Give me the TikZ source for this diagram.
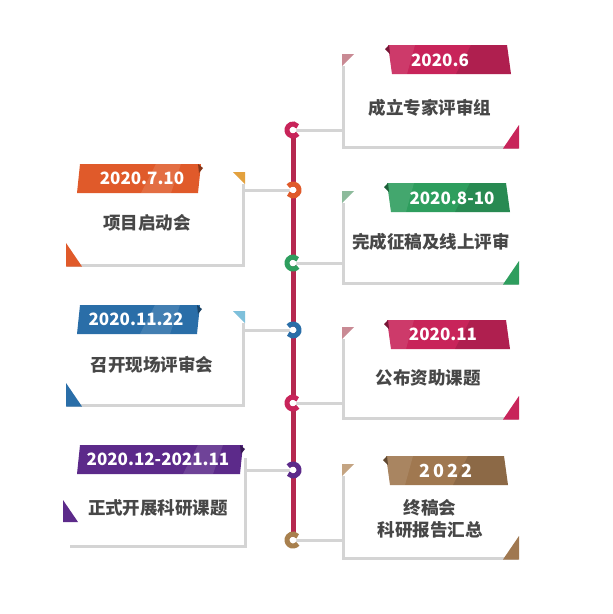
\documentclass[tikz,border=0pt]{standalone}
\usepackage{fontspec}
\setmainfont{Noto Sans CJK SC}
\definecolor{crim}{HTML}{C8245A}
\definecolor{crimpale}{HTML}{C98A94}
\definecolor{tline}{HTML}{B5284F}
\definecolor{orng}{HTML}{E05A2A}
\definecolor{orngpale}{HTML}{E3A13E}
\definecolor{grn}{HTML}{2E9E5E}
\definecolor{grnpale}{HTML}{8DBB9C}
\definecolor{blu}{HTML}{2A6EA8}
\definecolor{blupale}{HTML}{7EC0DB}
\definecolor{purp}{HTML}{5C2A8A}
\definecolor{brwn}{HTML}{A07850}
\definecolor{brwnpale}{HTML}{C4A482}
\definecolor{ringbrown}{HTML}{A8804E}
\definecolor{graybd}{HTML}{D4D4D4}
\definecolor{txt}{HTML}{474747}
\tikzset{
  border/.style={draw=graybd, line width=3pt, line cap=butt, line join=miter},
  conn/.style={draw=graybd, line width=3pt},
  bantext/.style={text=white, font=\bfseries\fontsize{17}{20}\selectfont, inner sep=0pt},
  maintext/.style={text=txt, font=\bfseries\fontsize{17.5}{22}\selectfont, inner sep=0pt, align=center},
  ringst/.style={line width=5pt},
}
% right banner: #1 color, #2 left x, #3 right x, #4 top y
\newcommand{\rbanner}[4]{%
  \fill[#1] (#2+3,#4) -- (#3-4,#4) -- (#3,#4+29) -- (#2+7,#4+29) -- cycle;
  \fill[white, opacity=0.10] (#2+3,#4) -- (#2+30,#4) -- (#2+22,#4+29) -- (#2+7,#4+29) -- cycle;
  \fill[black, opacity=0.12] (#3-40,#4) -- (#3-4,#4) -- (#3,#4+29) -- (#3-55,#4+29) -- cycle;
  \fill[#1!60!black] (#2,#4+4) -- (#2+4,#4) -- (#2+5,#4+9) -- cycle;
}
% left banner
\newcommand{\lbanner}[4]{%
  \fill[#1] (#2+3,#4) -- (#3,#4) -- (#3-3,#4+29) -- (#2,#4+29) -- cycle;
  \fill[white, opacity=0.12] (#3-45,#4) -- (#3-20,#4) -- (#3-30,#4+29) -- (#3-60,#4+29) -- cycle;
  \fill[#1!60!black] (#3-3,#4) -- (#3+2,#4+4) -- (#3-2,#4+9) -- cycle;
}
% ring: #1 name, #2 color, #3 opening angle
\newcommand{\ringat}[3]{%
  \draw[ringst, draw=#2] ([shift={(#3+38:6)}]#1) arc[start angle=#3+38, end angle=#3+322, radius=6];
}
\begin{document}
\begin{tikzpicture}[x=1pt, y=-1pt]
\useasboundingbox[fill=white] (0,0) rectangle (613,614);

% ---- timeline
\coordinate (c1) at (293,130);
\coordinate (c2) at (293,190);
\coordinate (c3) at (293,263);
\coordinate (c4) at (293,330);
\coordinate (c5) at (293,403);
\coordinate (c6) at (293,470);
\coordinate (c7) at (293,540);
\draw[draw=tline, line width=5pt] (c1) -- (c7);

% ---- connector joints
\coordinate (j1) at (343,130);
\coordinate (j2) at (243,190);
\coordinate (j3) at (343,263);
\coordinate (j4) at (243,330);
\coordinate (j5) at (343,403);
\coordinate (j6) at (245,470);
\coordinate (j7) at (343,540);
\draw[conn] ([xshift=3pt]c1) -- (j1);
\draw[conn] ([xshift=-3pt]c2) -- (j2);
\draw[conn] ([xshift=3pt]c3) -- (j3);
\draw[conn] ([xshift=-3pt]c4) -- (j4);
\draw[conn] ([xshift=3pt]c5) -- (j5);
\draw[conn] ([xshift=-3pt]c6) -- (j6);
\draw[conn] ([xshift=3pt]c7) -- (j7);

% ---- rings
\fill[white] (c1) circle (3.5) (c2) circle (3.5) (c3) circle (3.5) (c4) circle (3.5) (c5) circle (3.5) (c6) circle (3.5) (c7) circle (3.5);
\ringat{c1}{crim}{0}
\ringat{c2}{orng}{180}
\ringat{c3}{grn}{0}
\ringat{c4}{blu}{180}
\ringat{c5}{crim}{0}
\ringat{c6}{purp}{180}
\ringat{c7}{ringbrown}{0}

% ---- right box 1
\draw[border] (343,66) -- (343,147) -- (518,147);
\fill[crimpale] (342,54) -- (354,54) -- (342,66) -- cycle;
\fill[crim] (519,125) -- (519,148.5) -- (503,148.5) -- cycle;
\rbanner{crim}{385}{511}{45}
\node[bantext] (b1) at (440,60) {2020.6};
\node[maintext] (t1) at (430,108) {成立专家评审组};

% ---- right box 2
\draw[border] (343,203) -- (343,283) -- (518,283);
\fill[grnpale] (342,191) -- (354,191) -- (342,203) -- cycle;
\fill[grn] (519,261) -- (519,284.5) -- (503,284.5) -- cycle;
\rbanner{grn}{384}{510}{183}
\node[bantext] (b2) at (452,198) {2020.8-10};
\node[maintext] (t2) at (431,242) {完成征稿及线上评审};

% ---- right box 3
\draw[border] (343,339) -- (343,418) -- (518,418);
\fill[crimpale] (342,327) -- (354,327) -- (342,339) -- cycle;
\fill[crim] (519,396) -- (519,419.5) -- (503,419.5) -- cycle;
\rbanner{crim}{384}{510}{320}
\node[bantext] (b3) at (443,334) {2020.11};
\node[maintext] (t3) at (428,378) {公布资助课题};

% ---- right box 4
\draw[border] (343,476) -- (343,558) -- (518,558);
\fill[brwnpale] (342,464) -- (354,464) -- (342,476) -- cycle;
\fill[brwn] (519,536) -- (519,559.5) -- (503,559.5) -- cycle;
\rbanner{brwn}{383}{508}{456}
\node[bantext, font=\bfseries\fontsize{18}{20}\selectfont] (b4) at (446,471) {2\,0\,2\,2};
\node[maintext] (t4) at (430,519) {终稿会\\科研报告汇总};

% ---- left box 1
\draw[border] (243,184) -- (243,265) -- (67,265);
\fill[orngpale] (245,172) -- (233,172) -- (245,184) -- cycle;
\fill[orng] (66,243) -- (66,266.5) -- (82,266.5) -- cycle;
\lbanner{orng}{77}{201}{164}
\node[bantext] (b5) at (142,178) {2020.7.10};
\node[maintext] (t5) at (147,223) {项目启动会};

% ---- left box 2
\draw[border] (243,323) -- (243,405) -- (67,405);
\fill[blupale] (245,311) -- (233,311) -- (245,323) -- cycle;
\fill[blu] (66,383) -- (66,406.5) -- (82,406.5) -- cycle;
\lbanner{blu}{77}{200}{305}
\node[bantext] (b6) at (136,319) {2020.11.22};
\node[maintext] (t6) at (152,365) {召开现场评审会};

% ---- left box 3
\draw[border] (245,458) -- (245,546) -- (70,546);
\fill[purp] (63,500) -- (63,522) -- (78,522) -- cycle;
\lbanner{purp}{77}{243}{445}
\node[bantext] (b7) at (158,459) {2020.12-2021.11};
\node[maintext] (t7) at (158,508) {正式开展科研课题};
\end{tikzpicture}
\end{document}
